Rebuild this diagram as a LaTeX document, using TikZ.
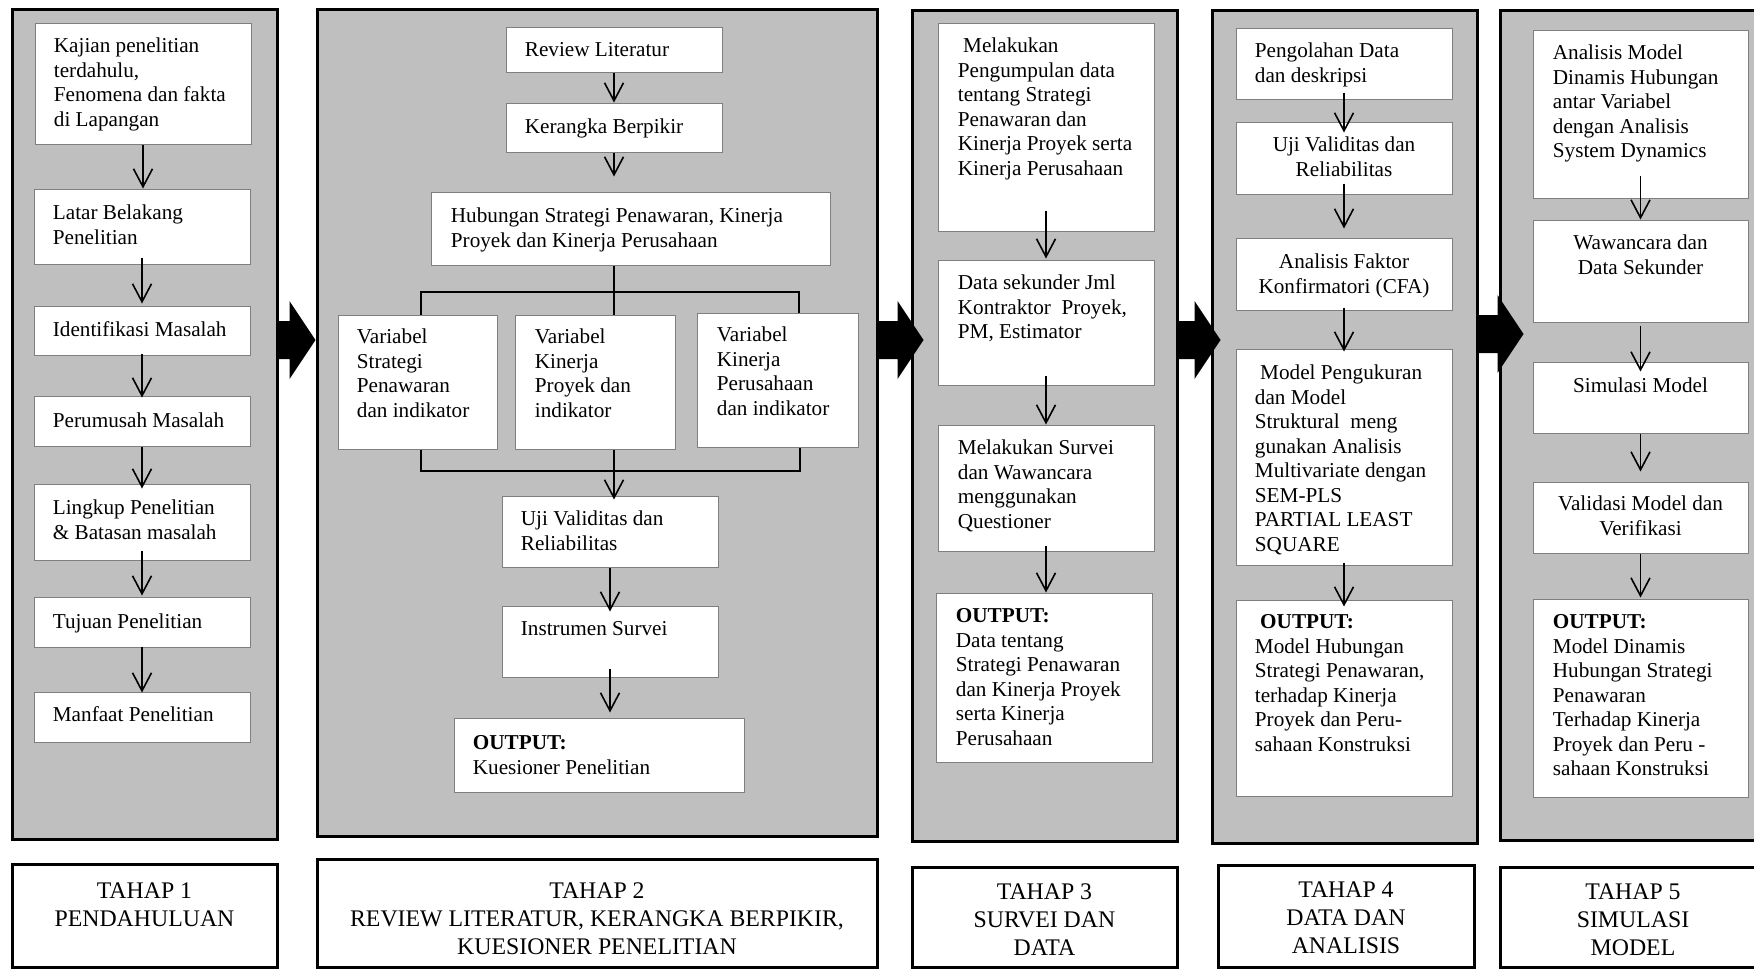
\documentclass[tikz,border=0pt]{standalone}
\usepackage{fontspec}
\setmainfont{Liberation Serif}
\usetikzlibrary{arrows.meta, calc, fit}
\definecolor{panelgray}{HTML}{BFBFBF}
\definecolor{boxline}{HTML}{7F7F7F}
\newcommand{\boxlines}[1]{\begin{tabular}[t]{@{}l@{}}#1\end{tabular}}
\newcommand{\midlines}[1]{\begin{tabular}[t]{@{}c@{}}#1\end{tabular}}

\begin{document}
\begin{tikzpicture}[x=0.5pt, y=-0.5pt,
    panel/.style={draw=black, fill=panelgray, line width=1.5pt, inner sep=0pt},
    stagebox/.style={draw=black, fill=white, line width=1.5pt, inner sep=0pt},
    box/.style={draw=boxline, fill=white, line width=0.5pt, inner sep=0pt},
    txt/.style={inner sep=0pt, anchor=base west, font=\fontsize{10.6}{12.25}\selectfont},
    ctxt/.style={inner sep=0pt, anchor=base, font=\fontsize{10.6}{12.25}\selectfont},
    stxt/.style={inner sep=0pt, anchor=base, font=\fontsize{11.9}{14}\selectfont},
    arr/.style={-{Straight Barb[length=9pt, width=9.5pt]}, line width=0.8pt},
    tree/.style={line width=1.3pt}]

    \useasboundingbox (0,0) rectangle (1754,970);
    \clip (0,0) rectangle (1754,970);

    % panels
    \node[panel, fit={(12,9) (277,839)}] (p1) {};
    \node[panel, fit={(317,9) (877,836)}] (p2) {};
    \node[panel, fit={(912,10) (1177,841)}] (p3) {};
    \node[panel, fit={(1212,10) (1477,843)}] (p4) {};
    \node[panel, fit={(1500,10) (1766,840)}] (p5) {};

    % stage labels
    \node[stagebox, fit={(12,864) (277,967)}] (s1) {};
    \node[stagebox, fit={(317,859) (877,967)}] (s2) {};
    \node[stagebox, fit={(912,867) (1177,967)}] (s3) {};
    \node[stagebox, fit={(1218,865) (1474,967)}] (s4) {};
    \node[stagebox, fit={(1500,867) (1766,967)}] (s5) {};
    \node[stxt] (s1t) at ([yshift=-18pt]s1.north) {\midlines{TAHAP 1\\PENDAHULUAN}};
    \node[stxt] (s2t) at ([yshift=-20.5pt]s2.north) {\midlines{TAHAP 2\\REVIEW LITERATUR, KERANGKA BERPIKIR,\\KUESIONER PENELITIAN}};
    \node[stxt] (s3t) at ([yshift=-17pt]s3.north) {\midlines{TAHAP 3\\SURVEI DAN\\DATA}};
    \node[stxt] (s4t) at ([yshift=-17pt]s4.north) {\midlines{TAHAP 4\\DATA DAN\\ANALISIS}};
    \node[stxt] (s5t) at ([yshift=-17pt]s5.north) {\midlines{TAHAP 5\\SIMULASI\\MODEL}};

    % block arrows between the stages
    \foreach \pa/\pb/\tp/\ya in {p1/p2/0/340, p2/p3/13/340, p3/p4/10/340, p4/p5/25/334}{
        \fill let \p1=(\pa.east), \p2=(\pb.west), \p3=(0,\ya) in
            (\x1,\y3+9.5pt) -- (\x2+\tp*0.5pt-13pt,\y3+9.5pt) -- (\x2+\tp*0.5pt-13pt,\y3+19.5pt)
            -- (\x2+\tp*0.5pt,\y3) -- (\x2+\tp*0.5pt-13pt,\y3-19.5pt) -- (\x2+\tp*0.5pt-13pt,\y3-9.5pt)
            -- (\x1,\y3-9.5pt) -- cycle;
    }

    % tahap 1
    \node[box, fit={(35,23) (251,144)}] (k1) {};
    \node[box, fit={(34,189) (250,264)}] (k2) {};
    \node[box, fit={(34,306) (250,355)}] (k3) {};
    \node[box, fit={(34,396) (250,446)}] (k4) {};
    \node[box, fit={(34,484) (250,560)}] (k5) {};
    \node[box, fit={(34,597) (250,647)}] (k6) {};
    \node[box, fit={(34,692) (250,742)}] (k7) {};
    \node[txt] (k1t) at ([xshift=9.5pt,yshift=-15pt]k1.north west) {\boxlines{Kajian penelitian\\terdahulu,\\Fenomena dan fakta\\di Lapangan}};
    \node[txt] (k2t) at ([xshift=9.5pt,yshift=-15.5pt]k2.north west) {\boxlines{Latar Belakang\\Penelitian}};
    \node[txt] (k3t) at ([xshift=9.5pt,yshift=-15.5pt]k3.north west) {Identifikasi Masalah};
    \node[txt] (k4t) at ([xshift=9.5pt,yshift=-16pt]k4.north west) {Perumusah Masalah};
    \node[txt] (k5t) at ([xshift=9.5pt,yshift=-15.5pt]k5.north west) {\boxlines{Lingkup Penelitian\\\& Batasan masalah}};
    \node[txt] (k6t) at ([xshift=9.5pt,yshift=-16pt]k6.north west) {Tujuan Penelitian};
    \node[txt] (k7t) at ([xshift=9.5pt,yshift=-15pt]k7.north west) {Manfaat Penelitian};

    % tahap 2
    \node[box, fit={(506,27) (722,72)}] (r1) {};
    \node[box, fit={(506,103) (722,152)}] (r2) {};
    \node[box, fit={(431,192) (830,265)}] (hub) {};
    \node[box, fit={(338,315) (497,449)}] (v1) {};
    \node[box, fit={(515,315) (675,449)}] (v2) {};
    \node[box, fit={(697,313) (858,447)}] (v3) {};
    \node[box, fit={(502,496) (718,567)}] (uj) {};
    \node[box, fit={(502,606) (718,677)}] (ins) {};
    \node[box, fit={(454,718) (744,792)}] (o2) {};
    \node[txt] (r1t) at ([xshift=9.5pt,yshift=-15pt]r1.north west) {Review Literatur};
    \node[txt] (r2t) at ([xshift=9.5pt,yshift=-15.5pt]r2.north west) {Kerangka Berpikir};
    \node[txt] (hubt) at ([xshift=10pt,yshift=-15.5pt]hub.north west) {\boxlines{Hubungan Strategi Penawaran, Kinerja\\Proyek dan Kinerja Perusahaan}};
    \node[txt] (v1t) at ([xshift=9.5pt,yshift=-14.5pt]v1.north west) {\boxlines{Variabel\\Strategi\\Penawaran\\dan indikator}};
    \node[txt] (v2t) at ([xshift=10pt,yshift=-14.5pt]v2.north west) {\boxlines{Variabel\\Kinerja\\Proyek dan\\indikator}};
    \node[txt] (v3t) at ([xshift=10pt,yshift=-14.5pt]v3.north west) {\boxlines{Variabel\\Kinerja\\Perusahaan\\dan indikator}};
    \node[txt] (ujt) at ([xshift=9.5pt,yshift=-15pt]uj.north west) {\boxlines{Uji Validitas dan\\Reliabilitas}};
    \node[txt] (inst) at ([xshift=9.5pt,yshift=-15pt]ins.north west) {Instrumen Survei};
    \node[txt] (o2t) at ([xshift=9.5pt,yshift=-16pt]o2.north west) {\boxlines{\textbf{OUTPUT:}\\Kuesioner Penelitian}};

    \coordinate (bl) at (421,292);
    \coordinate (br) at (799,292);
    \coordinate (cl) at (421,471);
    \coordinate (cr) at (800,471);
    \draw[tree] (r2.south |- hub.south) -- (r2.south |- v2.north);
    \draw[tree] (bl |- v1.north) -- (bl) -- (br) -- (br |- v3.north);
    \draw[tree] (cl |- v1.south) -- (cl) -- (cr) -- (cr |- v3.south);
    \draw[tree] (r2.south |- v2.south) -- (r2.south |- cl);
    \draw[arr] (r2.south |- cl) -- ($(r2.south |- uj.north)+(0pt,-2pt)$);

    % tahap 3
    \node[box, fit={(938,23) (1154,231)}] (m1) {};
    \node[box, fit={(938,260) (1154,385)}] (m2) {};
    \node[box, fit={(938,425) (1154,551)}] (m3) {};
    \node[box, fit={(936,593) (1152,762)}] (o3) {};
    \node[txt] (m1t) at ([xshift=10pt,yshift=-15pt]m1.north west) {\boxlines{\ Melakukan\\Pengumpulan data\\tentang Strategi\\Penawaran dan\\Kinerja Proyek serta\\Kinerja Perusahaan}};
    \node[txt] (m2t) at ([xshift=10pt,yshift=-15pt]m2.north west) {\boxlines{Data sekunder Jml\\Kontraktor\ \ Proyek,\\PM, Estimator}};
    \node[txt] (m3t) at ([xshift=10pt,yshift=-15pt]m3.north west) {\boxlines{Melakukan Survei\\dan Wawancara\\menggunakan\\Questioner}};
    \node[txt] (o3t) at ([xshift=10pt,yshift=-15pt]o3.north west) {\boxlines{\textbf{OUTPUT:}\\Data tentang\\Strategi Penawaran\\dan Kinerja Proyek\\serta Kinerja\\Perusahaan}};

    % tahap 4
    \node[box, fit={(1236,28) (1452,99)}] (n1) {};
    \node[box, fit={(1236,122) (1452,194)}] (n2) {};
    \node[box, fit={(1236,238) (1452,310)}] (n3) {};
    \node[box, fit={(1236,349) (1452,565)}] (n4) {};
    \node[box, fit={(1236,600) (1452,796)}] (o4) {};
    \node[txt] (n1t) at ([xshift=9.5pt,yshift=-15pt]n1.north west) {\boxlines{Pengolahan Data\\dan deskripsi}};
    \node[ctxt] (n2t) at ([yshift=-15pt]n2.north) {\midlines{Uji Validitas dan\\Reliabilitas}};
    \node[ctxt] (n3t) at ([yshift=-15.5pt]n3.north) {\midlines{Analisis Faktor\\Konfirmatori (CFA)}};
    \node[txt] (n4t) at ([xshift=9.5pt,yshift=-15.5pt]n4.north west) {\boxlines{\ Model Pengukuran\\dan Model\\Struktural\ \ meng\\gunakan Analisis\\Multivariate dengan\\SEM-PLS\\PARTIAL LEAST\\SQUARE}};
    \node[txt] (o4t) at ([xshift=9.5pt,yshift=-14.5pt]o4.north west) {\boxlines{\ \textbf{OUTPUT:}\\Model Hubungan\\Strategi Penawaran,\\terhadap Kinerja\\Proyek dan Peru-\\sahaan Konstruksi}};

    % tahap 5
    \node[box, fit={(1533,30) (1748,198)}] (q1) {};
    \node[box, fit={(1533,220) (1748,322)}] (q2) {};
    \node[box, fit={(1533,362) (1748,433)}] (q3) {};
    \node[box, fit={(1533,482) (1748,553)}] (q4) {};
    \node[box, fit={(1533,599) (1748,797)}] (o5) {};
    \node[txt] (q1t) at ([xshift=10pt,yshift=-15pt]q1.north west) {\boxlines{Analisis Model\\Dinamis Hubungan\\antar Variabel\\dengan Analisis\\System Dynamics}};
    \node[ctxt] (q2t) at ([yshift=-15pt]q2.north) {\midlines{Wawancara dan\\Data Sekunder}};
    \node[ctxt] (q3t) at ([yshift=-15.5pt]q3.north) {Simulasi Model};
    \node[ctxt] (q4t) at ([yshift=-14.5pt]q4.north) {\midlines{Validasi Model dan\\Verifikasi}};
    \node[txt] (o5t) at ([xshift=10pt,yshift=-15pt]o5.north west) {\boxlines{\textbf{OUTPUT:}\\Model Dinamis\\Hubungan Strategi\\Penawaran\\Terhadap Kinerja\\Proyek dan Peru -\\sahaan Konstruksi}};

    % small arrows inside the stages
    \foreach \u/\v/\su/\sv in {k1/k2/0/0, k2/k3/3.5/1, k3/k4/1/-1, k4/k5/0/-2.5, k5/k6/5/0.5, k6/k7/0.5/-0.5,
        r1/r2/0/0, r2/hub/0/7.5, uj/ins/0/-3, ins/o2/4.5/2.5,
        m1/m2/10.5/0.5, m2/m3/5/0, m3/o3/3/0,
        n1/n2/3.5/-5.5, n2/n3/5.5/4.5, n3/n4/1.5/-1.5, n4/o4/1.5/-3.5,
        q1/q2/11.5/0, q2/q3/-1.5/-5, q3/q4/0/5, q4/o5/0/0.5}{
        \draw[arr] ($(\u.south)+(0pt,\su*1pt)$) -- ($(\u.south |- \v.north)+(0pt,\sv*1pt)$);
    }

\end{tikzpicture}
\end{document}
